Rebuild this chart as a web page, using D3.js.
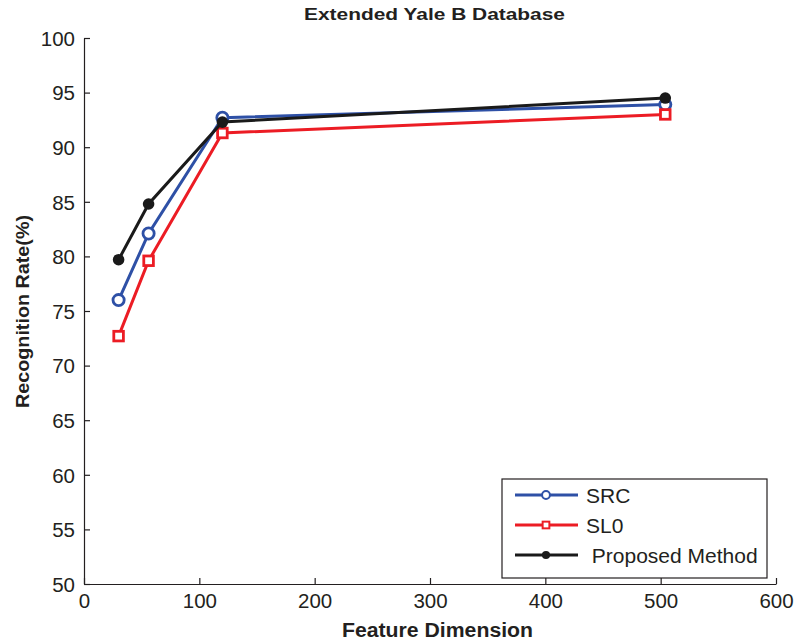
<!DOCTYPE html>
<html>
<head>
<meta charset="utf-8">
<script src="https://cdn.jsdelivr.net/npm/d3@7"></script>
<style>
  body { margin: 0; background: #fff; }
  text { font-family: "Liberation Sans", Arial, sans-serif; }
</style>
</head>
<body>
<div id="chart"></div>
<script>
// feature dimensions and recognition rates
const dims = [30, 56, 120, 504];
const src = [76.0, 82.1, 92.7, 93.9];
const sl0 = [72.7, 79.6, 91.3, 93.0];
const proposed = [79.7, 84.8, 92.3, 94.5];
const xTicks = [0, 100, 200, 300, 400, 500, 600];
const yTicks = [50, 55, 60, 65, 70, 75, 80, 85, 90, 95, 100];

const width = 799, height = 643;
const margin = { top: 38, right: 23, bottom: 59, left: 84 };

const svg = d3.select('#chart').append('svg')
  .attr('width', width)
  .attr('height', height);

const x = d3.scaleLinear().domain([0, 600]).range([margin.left, width - margin.right]);
const y = d3.scaleLinear().domain([50, 100]).range([height - margin.bottom, margin.top]);

// axes, ticks pointing inward
const xAxis = svg.append('g')
  .attr('transform', `translate(0,${y(50)})`)
  .call(d3.axisBottom(x).tickValues(xTicks).tickSizeInner(-6).tickSizeOuter(0).tickPadding(9));
const yAxis = svg.append('g')
  .attr('transform', `translate(${x(0)},0)`)
  .call(d3.axisLeft(y).tickValues(yTicks).tickSizeInner(-6).tickSizeOuter(0).tickPadding(9));

[xAxis, yAxis].forEach(a => {
  a.selectAll('path, line').attr('stroke', '#231f20').attr('stroke-width', 1.2);
  a.selectAll('text').attr('font-size', 20.5).attr('fill', '#231f20')
    .attr('font-family', '"Liberation Sans", Arial, sans-serif');
});
xAxis.selectAll('text').attr('dy', '0.72em');
yAxis.selectAll('text').attr('dy', '0.36em');

// titles (text in the reference is stretched horizontally)
svg.append('text')
  .attr('x', 304).attr('y', 20)
  .attr('font-size', 17).attr('font-weight', 'bold').attr('fill', '#231f20')
  .attr('textLength', 261).attr('lengthAdjust', 'spacingAndGlyphs')
  .text('Extended Yale B Database');

svg.append('text')
  .attr('x', 342).attr('y', 637)
  .attr('font-size', 19.5).attr('font-weight', 'bold').attr('fill', '#231f20')
  .attr('textLength', 191).attr('lengthAdjust', 'spacingAndGlyphs')
  .text('Feature Dimension');

svg.append('text')
  .attr('transform', `translate(29,408) rotate(-90)`)
  .attr('font-size', 18.5).attr('font-weight', 'bold').attr('fill', '#231f20')
  .attr('textLength', 193).attr('lengthAdjust', 'spacingAndGlyphs')
  .text('Recognition Rate(%)');

const series = [
  { name: 'SRC', values: src, color: '#2e50a6', marker: 'circle' },
  { name: 'SL0', values: sl0, color: '#ec1c24', marker: 'square' },
  { name: ' Proposed Method', values: proposed, color: '#1a1a1a', marker: 'dot' }
];

const line = d3.line().x(d => x(d[0])).y(d => y(d[1]));

function drawMarker(g, type, color, cx, cy, s) {
  if (type === 'circle') {
    g.append('circle').attr('cx', cx).attr('cy', cy).attr('r', 5.6 * s)
      .attr('fill', '#fff').attr('stroke', color).attr('stroke-width', 2.8 * s);
  } else if (type === 'square') {
    const h = 4.8 * s;
    g.append('rect').attr('x', cx - h).attr('y', cy - h).attr('width', 2 * h).attr('height', 2 * h)
      .attr('fill', '#fff').attr('stroke', color).attr('stroke-width', 2.8 * s);
  } else {
    g.append('circle').attr('cx', cx).attr('cy', cy).attr('r', 5.8 * s).attr('fill', color);
  }
}

series.forEach(sr => {
  const pts = dims.map((d, i) => [d, sr.values[i]]);
  svg.append('path').datum(pts)
    .attr('d', line)
    .attr('fill', 'none')
    .attr('stroke', sr.color)
    .attr('stroke-width', 3);
  const g = svg.append('g');
  pts.forEach(p => drawMarker(g, sr.marker, sr.color, x(p[0]), y(p[1]), 1));
});

// legend
const lg = svg.append('g');
lg.append('rect').attr('x', 502).attr('y', 479).attr('width', 265).attr('height', 99)
  .attr('fill', '#fff').attr('stroke', '#231f20').attr('stroke-width', 1.2);
series.forEach((sr, i) => {
  const ly = 495 + i * 30;
  lg.append('line').attr('x1', 515).attr('x2', 578).attr('y1', ly).attr('y2', ly)
    .attr('stroke', sr.color).attr('stroke-width', 3);
  drawMarker(lg, sr.marker, sr.color, 546, ly, 0.7);
  lg.append('text').attr('x', 586).attr('y', ly).attr('dy', '0.36em')
    .attr('font-size', 21).attr('fill', '#231f20')
    .attr('xml:space', 'preserve').style('white-space', 'pre')
    .text(sr.name);
});
</script>
</body>
</html>
